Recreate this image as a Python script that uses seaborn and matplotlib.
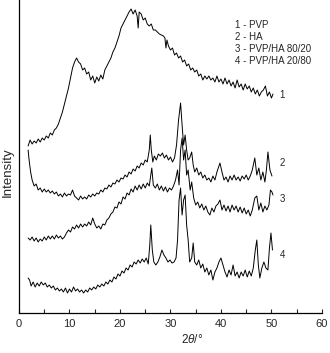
import numpy as np
import pandas as pd
import matplotlib
matplotlib.use("Agg")
import matplotlib.pyplot as plt
import seaborn as sns

# XRD patterns (2theta in degrees, stacked intensity, arb. units)
x_pvp = [1.8, 2.2, 2.6, 3.0, 3.4, 3.8, 4.2, 4.6, 5.0, 5.4, 5.8, 6.2, 6.6, 7.0, 7.4, 7.8, 8.2, 8.6, 9.0, 9.4,
         9.8, 10.2, 10.6, 11.0, 11.4, 11.8, 12.2, 12.6, 13.0, 13.4, 13.8, 14.2, 14.6, 15.0, 15.4, 15.8, 16.2, 16.6, 17.0, 17.4,
         17.8, 18.2, 18.6, 19.0, 19.4, 19.8, 20.2, 20.6, 21.0, 21.4, 21.8, 22.2, 22.6, 23.0, 23.4, 23.6, 23.8, 24.2, 24.6, 25.0,
         25.4, 25.8, 26.2, 26.6, 27.0, 27.4, 27.8, 28.2, 28.6, 28.9, 29.1, 29.3, 29.6, 30.0, 30.4, 30.8, 31.2, 31.6, 32.0, 32.4,
         32.8, 33.2, 33.6, 34.0, 34.4, 34.8, 35.2, 35.6, 36.0, 36.4, 36.8, 37.2, 37.6, 38.0, 38.4, 38.8, 39.2, 39.6, 40.0, 40.4,
         40.8, 41.2, 41.6, 42.0, 42.4, 42.8, 43.2, 43.6, 44.0, 44.4, 44.8, 45.2, 45.6, 46.0, 46.4, 46.8, 47.2, 47.6, 48.0, 48.4,
         48.8, 49.2, 49.6, 50.0, 50.3]
y_pvp = [167, 173, 169, 172, 170, 174, 171, 175, 173, 177, 175, 180, 178, 183, 185, 189, 195, 201, 209, 217,
         225, 235, 245, 251, 255, 251, 249, 243, 245, 239, 241, 233, 237, 230, 236, 232, 238, 234, 243, 247,
         251, 255, 261, 265, 271, 277, 285, 289, 293, 297, 301, 304, 299, 303, 297, 285, 301, 299, 293, 295,
         289, 287, 289, 283, 283, 281, 279, 278, 277, 275, 265, 273, 267, 263, 265, 258, 260, 255, 257, 251,
         253, 247, 249, 243, 245, 241, 243, 237, 239, 233, 237, 234, 237, 233, 235, 231, 237, 231, 234, 229,
         235, 229, 233, 227, 231, 225, 233, 226, 229, 223, 229, 224, 227, 221, 225, 219, 223, 217, 221, 223,
         227, 217, 221, 215, 219]

x_ha = [1.8, 2.0, 2.3, 2.6, 3.0, 3.4, 3.8, 4.2, 4.6, 5.0, 5.4, 5.8, 6.2, 6.6, 7.0, 7.4, 7.8, 8.2, 8.6, 9.0,
        9.4, 9.8, 10.2, 10.6, 11.0, 11.4, 11.8, 12.2, 12.6, 13.0, 13.4, 13.8, 14.2, 14.6, 15.0, 15.4, 15.8, 16.2, 16.6, 17.0,
        17.4, 17.8, 18.2, 18.6, 19.0, 19.4, 19.8, 20.2, 20.6, 21.0, 21.4, 21.8, 22.2, 22.6, 23.0, 23.4, 23.8, 24.2, 24.6, 25.0,
        25.4, 25.8, 26.0, 26.2, 26.5, 26.8, 27.2, 27.6, 28.0, 28.4, 28.8, 29.2, 29.6, 30.0, 30.4, 30.8, 31.2, 31.6, 32.0, 32.3,
        32.6, 32.9, 33.2, 33.5, 33.8, 34.2, 34.5, 34.8, 35.2, 35.6, 36.0, 36.4, 36.8, 37.2, 37.6, 38.0, 38.4, 38.8, 39.2, 39.8,
        40.2, 40.6, 41.0, 41.4, 41.8, 42.2, 42.6, 43.0, 43.4, 43.8, 44.2, 44.6, 45.0, 45.4, 45.8, 46.2, 46.7, 47.1, 47.5, 47.9,
        48.3, 48.7, 49.0, 49.3, 49.7, 50.1]
y_ha = [163, 153, 141, 133, 127, 129, 123, 125, 121, 124, 121, 123, 120, 122, 119, 121, 117, 119, 116, 120,
        117, 119, 118, 123, 117, 115, 113, 117, 114, 116, 114, 118, 116, 119, 117, 120, 119, 123, 121, 125,
        124, 128, 126, 130, 129, 133, 131, 135, 134, 138, 136, 141, 139, 144, 142, 147, 145, 150, 148, 153,
        151, 163, 178, 163, 151, 157, 153, 159, 157, 160, 155, 158, 153, 156, 151, 155, 168, 193, 210, 188,
        168, 178, 163, 153, 155, 161, 148, 141, 145, 138, 141, 135, 138, 133, 135, 131, 137, 133, 141, 150,
        141, 133, 136, 131, 137, 133, 138, 133, 136, 132, 137, 134, 138, 133, 137, 143, 155, 138, 145, 133,
        141, 131, 143, 161, 143, 137]

x_8020 = [1.8, 2.2, 2.6, 3.0, 3.4, 3.8, 4.2, 4.6, 5.0, 5.4, 5.8, 6.2, 6.6, 7.0, 7.4, 7.8, 8.2, 8.6, 9.0, 9.4,
          9.8, 10.2, 10.6, 11.0, 11.4, 11.8, 12.2, 12.6, 13.0, 13.4, 13.8, 14.2, 14.6, 15.0, 15.4, 15.8, 16.2, 16.6, 17.0, 17.4,
          17.8, 18.2, 18.6, 19.0, 19.4, 19.8, 20.2, 20.6, 21.0, 21.4, 21.8, 22.2, 22.6, 23.0, 23.4, 23.8, 24.2, 24.6, 25.0, 25.4,
          25.8, 26.1, 26.3, 26.6, 27.0, 27.4, 27.8, 28.2, 28.6, 29.0, 29.4, 29.8, 30.2, 30.6, 31.0, 31.4, 31.7, 32.0, 32.3, 32.6,
          32.9, 33.2, 33.5, 33.9, 34.2, 34.6, 35.0, 35.4, 35.8, 36.2, 36.6, 37.0, 37.4, 37.8, 38.2, 38.6, 39.0, 39.4, 39.8, 40.2,
          40.6, 41.0, 41.4, 41.8, 42.2, 42.6, 43.0, 43.4, 43.8, 44.2, 44.6, 45.0, 45.4, 45.8, 46.2, 46.7, 47.1, 47.5, 47.9, 48.3,
          48.7, 49.1, 49.5, 49.8, 50.1, 50.3]
y_8020 = [75, 73, 76, 72, 75, 71, 74, 72, 76, 73, 77, 74, 77, 74, 78, 75, 77, 74, 76, 80,
          83, 81, 86, 84, 88, 85, 89, 86, 89, 87, 91, 88, 95, 89, 85, 87, 84, 89, 88, 93,
          95, 99, 101, 106, 105, 111, 109, 116, 114, 120, 118, 124, 121, 127, 123, 128, 124, 129, 125, 130,
          127, 138, 145, 128, 125, 129, 123, 127, 122, 126, 121, 125, 123, 127, 133, 143, 128, 163, 175, 153,
          163, 138, 143, 123, 131, 115, 108, 111, 105, 109, 103, 107, 101, 98, 105, 101, 107, 109, 113, 103,
          108, 102, 107, 101, 108, 103, 107, 101, 106, 100, 105, 99, 103, 97, 103, 115, 117, 103, 110, 101,
          107, 103, 108, 123, 121, 118]

x_2080 = [1.8, 2.1, 2.4, 2.8, 3.2, 3.6, 4.0, 4.4, 4.8, 5.2, 5.6, 6.0, 6.4, 6.8, 7.2, 7.6, 8.0, 8.4, 8.8, 9.2,
          9.6, 10.0, 10.4, 10.8, 11.2, 11.6, 12.0, 12.4, 12.8, 13.2, 13.6, 14.0, 14.4, 14.8, 15.2, 15.6, 16.0, 16.4, 16.8, 17.2,
          17.6, 18.0, 18.4, 18.8, 19.2, 19.6, 20.0, 20.4, 20.8, 21.2, 21.6, 22.0, 22.4, 22.8, 23.2, 23.6, 24.0, 24.4, 24.8, 25.2,
          25.6, 25.9, 26.1, 26.4, 26.7, 27.1, 27.5, 27.9, 28.3, 28.7, 29.1, 29.5, 29.9, 30.3, 30.7, 31.1, 31.4, 31.7, 32.0, 32.3,
          32.6, 32.9, 33.2, 33.5, 33.8, 34.2, 34.5, 34.8, 35.2, 35.6, 36.0, 36.4, 36.8, 37.2, 37.6, 38.0, 38.4, 38.8, 39.2, 39.6,
          40.0, 40.4, 40.8, 41.2, 41.6, 42.0, 42.4, 42.8, 43.2, 43.6, 44.0, 44.4, 44.8, 45.2, 45.6, 46.0, 46.4, 46.8, 47.1, 47.4,
          47.7, 48.1, 48.5, 48.9, 49.3, 49.6, 49.9, 50.2]
y_2080 = [35, 33, 27, 31, 26, 30, 27, 31, 28, 30, 26, 28, 25, 27, 23, 25, 22, 24, 21, 25,
          20, 24, 21, 26, 22, 24, 21, 23, 20, 23, 21, 25, 23, 26, 24, 28, 26, 29, 27, 31,
          29, 33, 31, 36, 34, 39, 37, 42, 40, 45, 43, 48, 46, 51, 49, 53, 50, 54, 51, 55,
          49, 68, 88, 63, 51, 48, 51, 56, 63, 58, 55, 51, 53, 50, 51, 55, 73, 113, 125, 98,
          113, 118, 88, 73, 51, 55, 70, 51, 48, 53, 45, 49, 41, 45, 38, 43, 33, 41, 45, 51,
          55, 48, 41, 36, 43, 38, 48, 37, 41, 35, 41, 37, 43, 36, 42, 37, 45, 63, 73, 48,
          35, 45, 51, 45, 43, 65, 80, 63]

curve_ids = ["1", "2", "3", "4"]
legend_lines = ["1 - PVP", "2 - HA", "3 - PVP/HA 80/20", "4 - PVP/HA 20/80"]

frames = []
for cid, xs, ys in zip(curve_ids, [x_pvp, x_ha, x_8020, x_2080], [y_pvp, y_ha, y_8020, y_2080]):
    frames.append(pd.DataFrame({"two_theta": xs, "intensity": ys, "curve": cid}))
df = pd.concat(frames, ignore_index=True)

sns.set_style("ticks")
plt.rcParams["font.family"] = ["Liberation Sans", "DejaVu Sans"]
plt.rcParams["mathtext.fontset"] = "custom"
plt.rcParams["mathtext.it"] = "Liberation Sans:italic"
plt.rcParams["mathtext.rm"] = "Liberation Sans"

fig = plt.figure(figsize=(3.3, 3.53), dpi=100)
ax = fig.add_axes([0.0576, 0.1133, 0.918, 0.8867])

sns.lineplot(data=df, x="two_theta", y="intensity", hue="curve", units="curve",
             estimator=None, sort=False, palette=["black"] * 4, linewidth=0.7,
             legend=False, ax=ax)

# curve numbers at the right end of each trace
label_y = [218, 150, 114, 58]
for cid, ly in zip(curve_ids, label_y):
    ax.text(52.1, ly, cid, fontsize=7, ha="center", va="center")

# legend block written as plain text
legend_y = [288, 276, 264, 252]
for txt, ly in zip(legend_lines, legend_y):
    ax.text(42.8, ly, txt, fontsize=7, ha="left", va="center")

ax.set_xlim(0, 60)
ax.set_ylim(0, 313)
ax.set_xticks(np.arange(0, 61, 10))
ax.set_xticks(np.arange(0, 61, 5), minor=True)
ax.set_yticks([])
ax.tick_params(axis="x", which="both", direction="in", length=3, width=0.8, labelsize=8, pad=4)
sns.despine(ax=ax)
for sp in ["left", "bottom"]:
    ax.spines[sp].set_linewidth(0.9)
    ax.spines[sp].set_color("black")

ax.set_xlabel(r"2$\it{\theta}$/°", fontsize=8.5)
ax.xaxis.set_label_coords(0.57, -0.065)
ax.set_ylabel("Intensity", fontsize=9.5)
ax.yaxis.set_label_coords(-0.017, 0.45)

fig.savefig("out.png", dpi=100)
